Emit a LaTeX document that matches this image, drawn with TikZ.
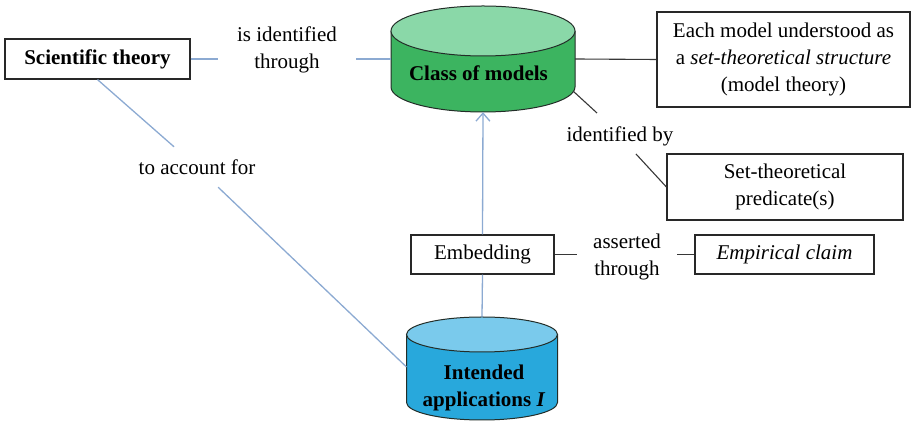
\documentclass[tikz,border=0pt]{standalone}
\usepackage{fontspec}
\setmainfont{Liberation Serif}
\usetikzlibrary{arrows.meta,calc}
\definecolor{gside}{RGB}{60,180,96}
\definecolor{gtop}{RGB}{138,216,168}
\definecolor{bside}{RGB}{40,168,220}
\definecolor{btop}{RGB}{122,202,236}
\definecolor{cyledge}{RGB}{35,45,40}
\definecolor{linkb}{RGB}{140,170,210}
\definecolor{darkl}{RGB}{55,55,55}
\definecolor{boxc}{RGB}{40,40,40}
\begin{document}
\begin{tikzpicture}[x=1pt,y=1pt,
  every node/.style={font=\fontsize{21}{27}\selectfont},
  box/.style={draw=boxc, line width=1.2pt, inner sep=0pt, align=center},
  lbl/.style={inner sep=0pt, align=center},
  boldtxt/.style={font=\fontsize{21}{27}\selectfont\bfseries},
  bl/.style={draw=linkb, line width=1.3pt},
  dk/.style={draw=darkl, line width=1.1pt},
  cyl/.style={draw=cyledge, line width=1pt}]
\useasboundingbox (0,0) rectangle (911,422);

% green cylinder
\fill[gside] (391,391) -- (391,335) arc[start angle=180,end angle=360,x radius=92pt,y radius=25pt] -- (575,391) -- cycle;
\draw[cyl] (391,391) -- (391,335) arc[start angle=180,end angle=360,x radius=92pt,y radius=25pt] -- (575,391);
\filldraw[cyl, fill=gtop] (483,391) ellipse [x radius=92pt, y radius=25pt];
% blue cylinder
\fill[bside] (406.5,87.5) -- (406.5,19.5) arc[start angle=180,end angle=360,x radius=75.5pt,y radius=17.5pt] -- (557.5,87.5) -- cycle;
\draw[cyl] (406.5,87.5) -- (406.5,19.5) arc[start angle=180,end angle=360,x radius=75.5pt,y radius=17.5pt] -- (557.5,87.5);
\filldraw[cyl, fill=btop] (482,87.5) ellipse [x radius=75.5pt, y radius=17.5pt];

% nodes
\node[box, boldtxt, minimum width=185pt, minimum height=40pt] (sci) at (97.5,363) {Scientific theory};
\node[inner sep=0pt, minimum width=184pt, minimum height=106pt] (gc) at (483,363) {};
\node[lbl, boldtxt] (gct) at (478.5,349) {Class of models};
\node[inner sep=0pt, minimum width=151pt, minimum height=103pt] (bc) at (482,53.5) {};
\node[lbl, boldtxt] (bct) at (484,34.5) {Intended\\applications \textit{I}};
\node[lbl, inner xsep=19pt] (isid) at (287,372) {is identified\\through};
\node[lbl, minimum height=40pt] (acc) at (197,255) {to account for};
\node[box, minimum width=253pt, minimum height=95pt] (em) at (783.5,362.5) {Each model understood as\\a \textit{set-theoretical structure}\\(model theory)};
\node[lbl, anchor=base] (idby) at (620,280) {identified by};
\node[box, minimum width=236pt, minimum height=66pt] (stp) at (785,235) {Set-theoretical\\predicate(s)};
\node[box, minimum width=143pt, minimum height=39pt] (emb) at (482.5,167.5) {Embedding};
\node[lbl, inner xsep=16pt] (asrt) at (627,165) {asserted\\through};
\node[box, minimum width=179pt, minimum height=39pt] (emp) at (784.5,167.5) {\textit{Empirical claim}};

% connectors
\coordinate (bcl) at (406.5,55);
\coordinate (gcr) at (573,331);
\coordinate (idA) at (597,309);
\coordinate (idB) at (636,268);
\draw[bl] (sci.east) -- (sci.east -| isid.west);
\draw[bl] (sci.east -| isid.east) -- (gc.west);
\draw[bl] (sci.south) -- (acc);
\draw[bl] (acc) -- (bcl);
\draw[bl, -{Straight Barb[length=8pt,width=14pt]}] (emb.north) -- (gc.south);
\draw[bl] (bc.north) -- (emb.south);
\draw[dk] (gc.east) -- (em.west);
\draw[dk] (gcr) -- (idA);
\draw[dk] (idB) -- (stp.west);
\draw[dk] (emb.east) -- (emb.east -| asrt.west);
\draw[dk] (emb.east -| asrt.east) -- (emp.west);
\end{tikzpicture}
\end{document}
